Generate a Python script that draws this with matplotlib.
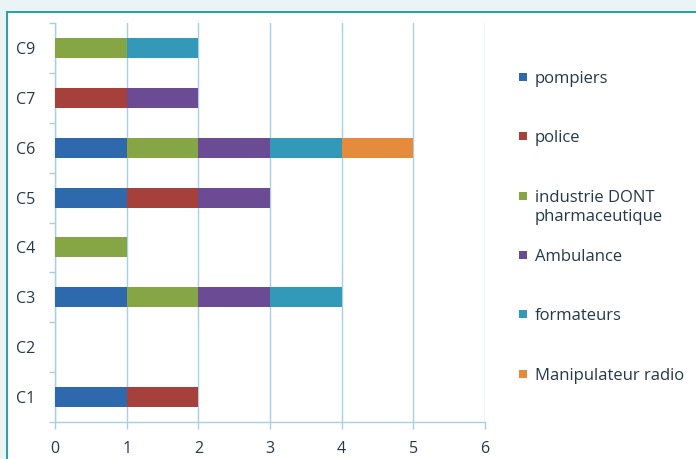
import numpy as np
import matplotlib.pyplot as plt
from matplotlib.patches import Rectangle

# categories from bottom to top
categories = ["C1", "C2", "C3", "C4", "C5", "C6", "C7", "C9"]

series = ["pompiers", "police", "industrie DONT\npharmaceutique",
          "Ambulance", "formateurs", "Manipulateur radio"]
colors = ["#2f69ad", "#a6403b", "#86a545", "#6b4b93", "#3399b8", "#e68a3c"]

pompiers = [1, 0, 1, 0, 1, 1, 0, 0]
police = [1, 0, 0, 0, 1, 0, 1, 0]
industrie = [0, 0, 1, 1, 0, 1, 0, 1]
ambulance = [0, 0, 1, 0, 1, 1, 1, 0]
formateurs = [0, 0, 1, 0, 0, 1, 0, 1]
manipulateur = [0, 0, 0, 0, 0, 1, 0, 0]
values = [pompiers, police, industrie, ambulance, formateurs, manipulateur]

xticks = [0, 1, 2, 3, 4, 5, 6]

plt.rcParams['font.family'] = ['Open Sans', 'DejaVu Sans']
txt = "#24394a"
grid_c = "#a8cfe8"
fs = 11.5

W, H = 696, 459
fig = plt.figure(figsize=(W / 100, H / 100), dpi=100)
fig.patch.set_facecolor("#eaf3f6")

# white panel with teal frame, kept behind the axes
fig.patches.append(Rectangle((7 / W, -0.1), 1.2, (H - 12) / H + 0.1,
                             transform=fig.transFigure, facecolor="white",
                             edgecolor="#22a3a0", linewidth=1.4, zorder=-10))

ax = fig.add_axes([55 / W, (H - 422) / H, 430 / W, 399 / H])
ax.set_facecolor("none")
ax.set_zorder(5)

y = np.arange(len(categories))
left = np.zeros(len(categories))
for name, vals, c in zip(series, values, colors):
    vals = np.array(vals, dtype=float)
    ax.barh(y, vals, left=left, height=0.4, color=c, edgecolor="none", zorder=3)
    left += vals

ax.set_xlim(0, 6)
ax.set_ylim(-0.5, len(categories) - 0.5)
ax.set_xticks(xticks)
ax.set_yticks(y)
ax.set_yticklabels(categories)
ax.set_yticks(np.arange(-0.5, len(categories), 1), minor=True)

ax.grid(axis="x", color=grid_c, linewidth=1, zorder=0)
for s in ["top", "right"]:
    ax.spines[s].set_visible(False)
for s in ["left", "bottom"]:
    ax.spines[s].set_color(grid_c)
    ax.spines[s].set_linewidth(1)

ax.tick_params(axis="x", colors=grid_c, length=5, width=1, labelcolor=txt,
               labelsize=fs, pad=9)
ax.tick_params(axis="y", which="major", length=0, labelcolor=txt,
               labelsize=fs, pad=14)
ax.tick_params(axis="y", which="minor", length=4, width=1, colors=grid_c)

# legend drawn row by row on the right
leg_y0, leg_dy = 77, 59.3
for i, (name, c) in enumerate(zip(series, colors)):
    yy = leg_y0 + i * leg_dy
    fig.patches.append(Rectangle((519 / W, 1 - (yy + 4) / H), 8 / W, 8 / H,
                                 transform=fig.transFigure, facecolor=c,
                                 edgecolor="none"))
    fig.text(535 / W, 1 - (yy - 6) / H, name, color=txt, fontsize=12,
             va="top", ha="left", linespacing=1.3)

fig.savefig("out.png", dpi=100)
